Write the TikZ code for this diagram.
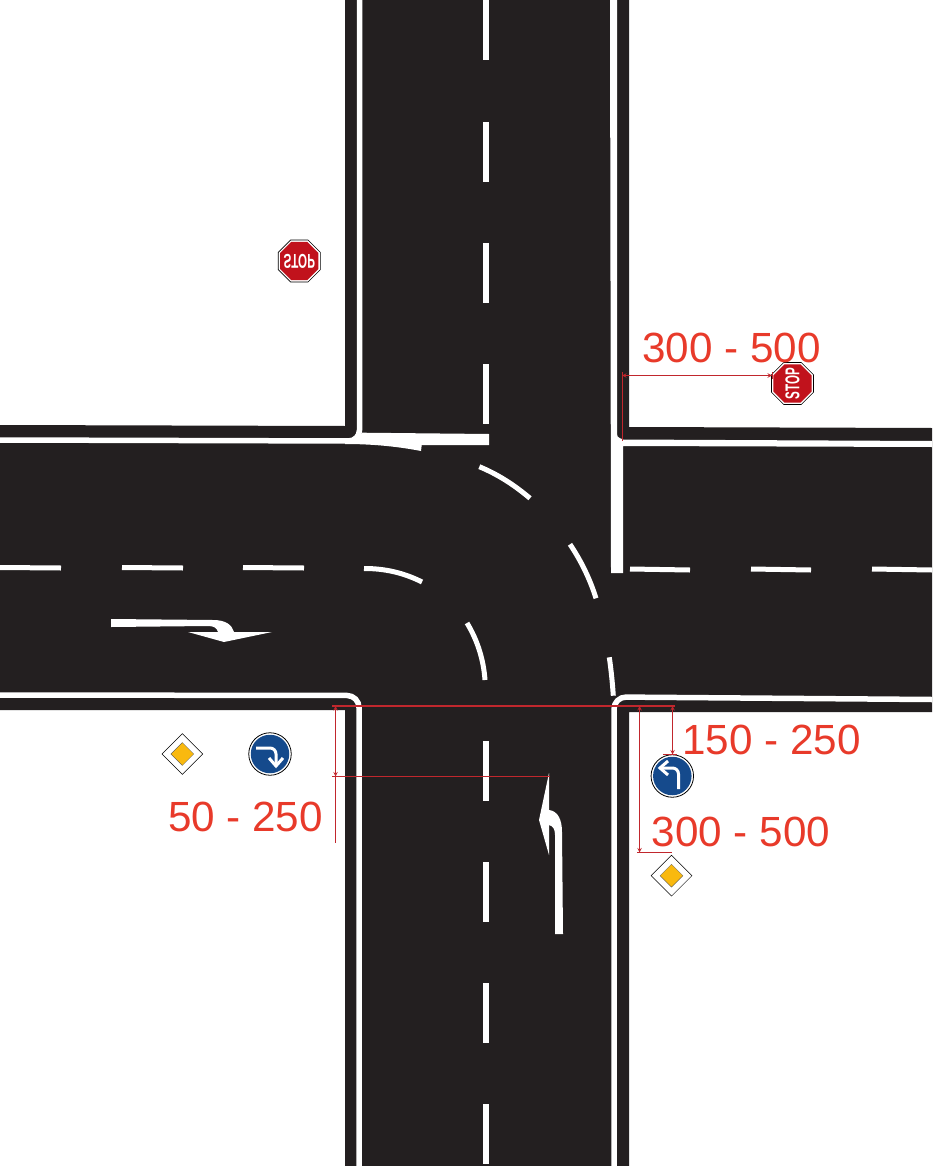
\documentclass[tikz,border=0pt]{standalone}
\usepackage{fontspec}
\setmainfont{Liberation Sans}
\usetikzlibrary{shapes.geometric}
\definecolor{asphalt}{HTML}{231F20}
\definecolor{dimred}{HTML}{C1272D}
\definecolor{textred}{HTML}{E83A2A}
\definecolor{stopred}{HTML}{C1121C}
\definecolor{signblue}{HTML}{154A8C}
\definecolor{signyellow}{HTML}{F9B90F}
\tikzset{
  marking/.style={draw=white, line width=5pt},
  dimline/.style={draw=dimred, line width=1pt},
  dimtext/.style={text=textred, inner sep=0pt, font=\fontsize{42.2}{42}\selectfont},
  stopring/.style={regular polygon, regular polygon sides=8, fill=white, draw=black, line width=.6pt, minimum size=45.5pt, inner sep=0pt},
  stopface/.style={regular polygon, regular polygon sides=8, fill=stopred, minimum size=41.5pt, inner sep=0pt},
  stoptext/.style={text=white, inner sep=0pt},
  bluering/.style={circle, fill=white, draw=black, line width=.8pt, minimum size=42.5pt, inner sep=0pt},
  blueface/.style={circle, fill=signblue, minimum size=38.5pt, inner sep=0pt},
  prioring/.style={diamond, aspect=1, fill=white, draw=black, line width=.5pt, minimum size=41pt, inner sep=0pt},
  prioface/.style={diamond, aspect=1, fill=signyellow, draw=black!70, line width=.3pt, minimum size=23pt, inner sep=0pt},
  signarrow/.style={draw=white, line width=3pt}
}
\newcommand{\stopword}{\scalebox{.58}[1]{\fontsize{20}{20}\selectfont\bfseries STOP}}
\begin{document}
\begin{tikzpicture}[x=1pt, y=-1pt, >=stealth]
\useasboundingbox (0,0) rectangle (932,1166);

% road surface
\fill[asphalt] (345,0) -- (629,0) -- (629,427) -- (932,428) -- (932,712) -- (629,712)
  -- (629,1166) -- (345,1166) -- (345,710) -- (0,710) -- (0,425) -- (345,426) -- cycle;

% edge lines
\draw[marking, line width=5.5pt, rounded corners=11pt] (359.5,0) -- (359.5,441) -- (0,440);
\draw[marking, line width=5.5pt, rounded corners=12pt] (0,695) -- (359,695.5) -- (359,1166);
\draw[marking, line width=5.5pt, rounded corners=12pt] (932,699.5) -- (614,697) -- (614,1166);
\fill[white] (610,0) -- (617,0) -- (617,431) .. controls (617,437) .. (623,439.5) -- (932,441)
  -- (932,447) -- (623,446) -- (623,573) -- (611,573) -- cycle;

% stop line running into the curve
\fill[white] (362,432.7) -- (489,434) -- (489,445) -- (421.7,445) -- (421,451)
  .. controls (395,446) and (370,444) .. (345,444) -- (345,438) -- (358,438) -- cycle;

% centre lines
\foreach \ya in {0,122,243,364}
  \draw[marking, line width=6pt] (486,\ya) -- (486,\ya+60);
\foreach \ya in {741,862,983,1104}
  \draw[marking, line width=6pt] (486,\ya) -- (486,\ya+60);
\foreach \xa in {0,122,243}
  \draw[marking] (\xa,567.5) -- (\xa+61,568);
\foreach \xa in {630,751,872}
  \draw[marking] (\xa,569) -- (\xa+60,570);

% turning lanes
\draw[marking] (364,568.5) .. controls (384.8,568.4) and (404.1,572.9) .. (422,582);
\draw[marking] (467,623) .. controls (477.5,640.4) and (483.5,659.4) .. (485,680);
\draw[marking] (479.3,466.7) .. controls (496.8,473.9) and (513.7,484.4) .. (530,498.3);
\draw[marking] (570,544.3) .. controls (581.3,561.2) and (590,579.2) .. (596,598.3);
\draw[marking] (609.3,657.3) .. controls (611.1,669.8) and (612.4,682.6) .. (613.3,695.7);

% road arrows
\fill[white] (111,619) -- (213,620) .. controls (226,620) and (232,625) .. (234,632)
  -- (272,632) -- (224,642) -- (188,632) -- (218,632) .. controls (217,628) and (214,626) .. (208,626)
  -- (111,627) -- cycle;
\fill[white] (549,773) -- (549,810) .. controls (558,811) and (562,820) .. (562,832) -- (563,934)
  -- (555,934) -- (555,835) .. controls (555,829) and (553,826) .. (549,825) -- (549,855) -- (539,820) -- cycle;

% signs
\node[stopring] (stopw) at (299.3,261) {};
\node[stopface] (stopwface) at (stopw) {};
\node[stoptext] (stopwtext) at (stopw) {\scalebox{1}[-1]{\stopword}};
\node[stopring] (stope) at (792.5,383.5) {};
\node[stopface] (stopeface) at (stope) {};
\node[stoptext] (stopetext) at (stope) {\rotatebox{90}{\stopword}};

\node[prioring] (priow) at (182.3,754) {};
\node[prioface] (priowface) at (priow) {};
\node[prioring] (prioe) at (671.5,875.7) {};
\node[prioface] (prioeface) at (prioe) {};

\node[bluering] (bluew) at (270,754) {};
\node[blueface] (bluewface) at (bluew) {};
\draw[signarrow, rounded corners=6pt] (256,748) -- (276,748) -- (276,765);
\draw[signarrow] (269,758) -- (276,766) -- (283,758);

\node[bluering] (bluee) at (672.3,776) {};
\node[blueface] (blueeface) at (bluee) {};
\draw[signarrow, rounded corners=6pt] (678.5,789) -- (678.5,768) -- (661,768);
\draw[signarrow] (668,761) -- (660,768) -- (668,775);

% dimensions
\coordinate (datuma) at (332,706);
\coordinate (datumb) at (675,706);
\coordinate (stoptick) at (622,375.5);
\coordinate (kerbtick) at (622,441);
\draw[dimline, line width=1.3pt] (datuma) -- (datumb);

\draw[dimline, <->] (stoptick) -- (772,375.5);
\draw[dimline] (622,372) -- (kerbtick);
\draw[dimline] (772,372) -- (772,379);

\draw[dimline, <->] (672.5,706) -- (672.5,754.5);
\draw[dimline] (663,754.5) -- (677,754.5);

\draw[dimline, <->] (639.5,706) -- (639.5,852.5);
\draw[dimline] (637,852.5) -- (672,852.5);

\draw[dimline, <->] (335.5,706) -- (335.5,776.5);
\draw[dimline] (335.5,776.5) -- (335.5,843);
\draw[dimline] (332,776.5) -- (550,776.5);

\node[dimtext] (dimstop) at (731.5,347.5) {300 - 500};
\node[dimtext] (dimblue) at (771.5,739.5) {150 - 250};
\node[dimtext] (dimprio) at (741,831.5) {300 - 500};
\node[dimtext] (dimturn) at (245.5,816.5) {50 - 250};
\end{tikzpicture}
\end{document}
